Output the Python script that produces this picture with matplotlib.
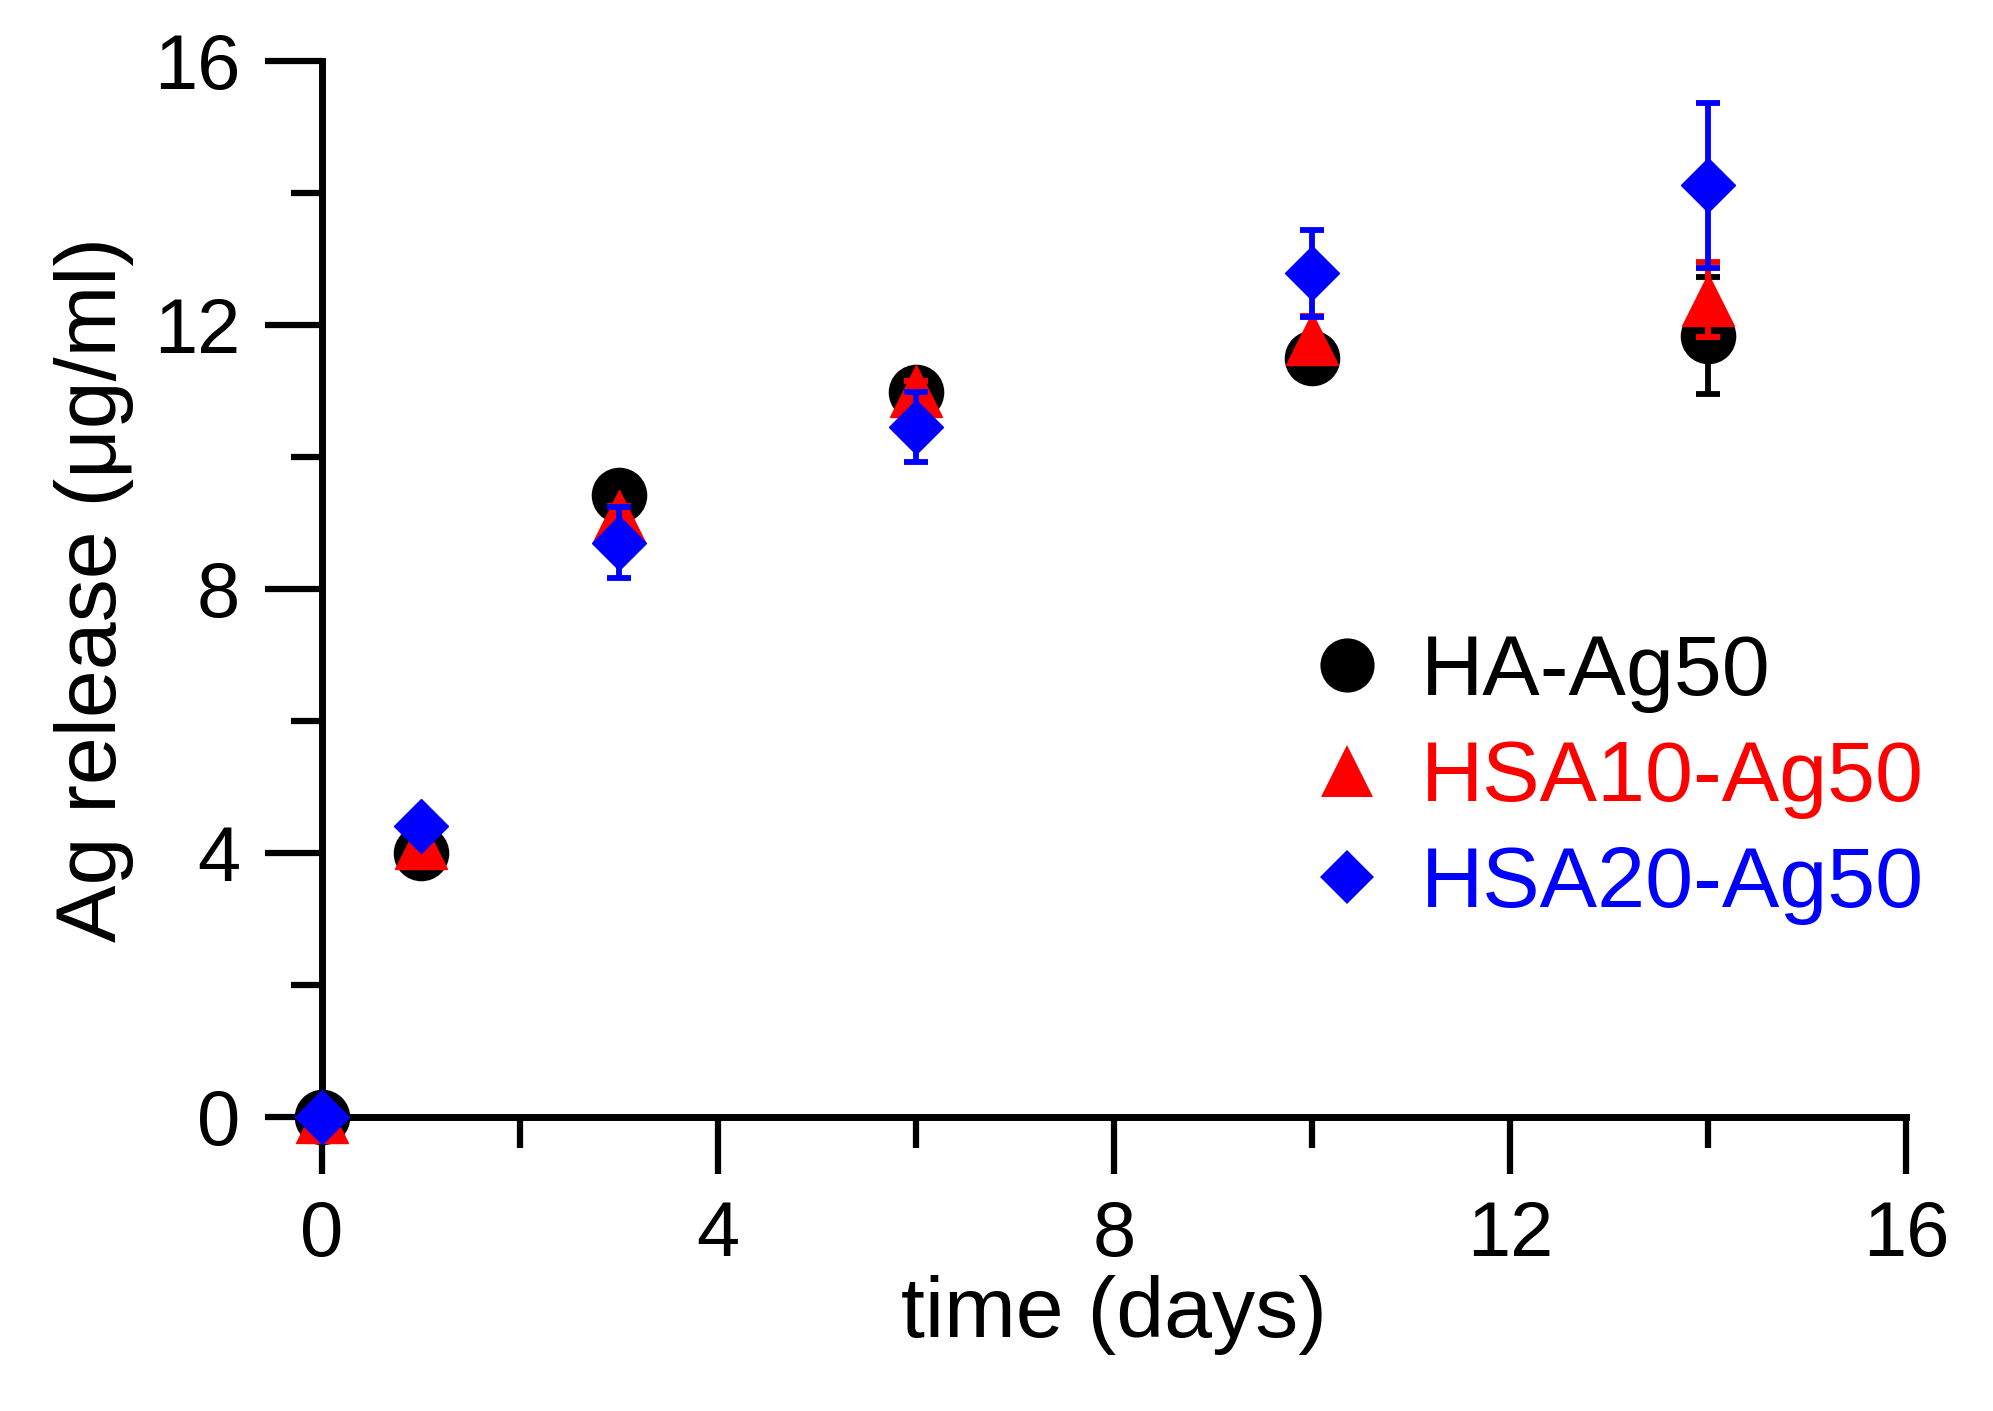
import numpy as np
import matplotlib
matplotlib.use("Agg")
import matplotlib.pyplot as plt
from matplotlib.lines import Line2D
from matplotlib.ticker import MultipleLocator

plt.rcParams['font.family'] = ['Liberation Sans', 'DejaVu Sans']

# datos
time_days = [0, 1, 3, 6, 10, 14]

ha_ag50 = [0.0, 4.0, 9.42, 10.98, 11.5, 11.84]
ha_ag50_err = [0.0, 0.15, 0.15, 0.15, 0.25, 0.88]

hsa10_ag50 = [0.0, 4.15, 9.1, 11.0, 11.78, 12.38]
hsa10_ag50_err = [0.0, 0.15, 0.15, 0.15, 0.36, 0.57]

hsa20_ag50 = [0.0, 4.41, 8.7, 10.45, 12.78, 14.12]
hsa20_ag50_err = [0.0, 0.15, 0.54, 0.53, 0.66, 1.25]

labels = ["HA-Ag50", "HSA10-Ag50", "HSA20-Ag50"]
colors = ["black", "red", "blue"]
markers = ["o", "^", "D"]
sizes = [39, 38, 27]

fig = plt.figure(figsize=(19.93, 14.11), dpi=100)
ax = fig.add_axes([0.1616, 0.2084, 0.7948, 0.7484])

series = [(ha_ag50, ha_ag50_err), (hsa10_ag50, hsa10_ag50_err), (hsa20_ag50, hsa20_ag50_err)]
handles = []
for i, (vals, errs) in enumerate(series):
    ax.errorbar(time_days, vals, yerr=errs, fmt=markers[i], color=colors[i],
                markersize=sizes[i], markeredgecolor=colors[i], elinewidth=4.2,
                capsize=8.5, capthick=4.2, zorder=3 + i, clip_on=False)
    handles.append(Line2D([], [], linestyle='none', marker=markers[i], color=colors[i],
                          markersize=sizes[i], markeredgewidth=0))

ax.set_xlim(0, 16)
ax.set_ylim(0, 16)
ax.xaxis.set_major_locator(MultipleLocator(4))
ax.xaxis.set_minor_locator(MultipleLocator(2))
ax.yaxis.set_major_locator(MultipleLocator(4))
ax.yaxis.set_minor_locator(MultipleLocator(2))

for s in ['top', 'right']:
    ax.spines[s].set_visible(False)
for s in ['left', 'bottom']:
    ax.spines[s].set_linewidth(5)

ax.tick_params(which='major', direction='out', length=41, width=4.5, labelsize=56, pad=18)
ax.tick_params(which='minor', direction='out', length=22, width=4.5)

ax.set_xlabel("time (days)", fontsize=62, labelpad=2)
ax.set_ylabel("Ag release (μg/ml)", fontsize=62, labelpad=14)

leg = ax.legend(handles, labels, loc='center left', bbox_to_anchor=(0.631, 0.32),
                frameon=False, fontsize=62, numpoints=1, handlelength=0.6,
                handletextpad=0.55, labelspacing=0.3, borderpad=0, borderaxespad=0)
for txt, c in zip(leg.get_texts(), colors):
    txt.set_color(c)

fig.savefig("out.png", dpi=100)
